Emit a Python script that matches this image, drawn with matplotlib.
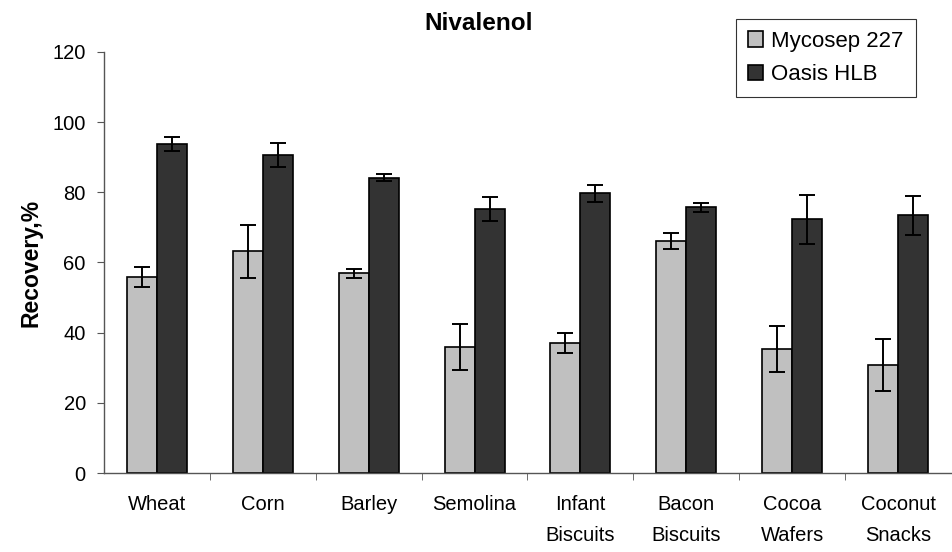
import matplotlib
matplotlib.use("Agg")
import matplotlib.pyplot as plt
import numpy as np

plt.rcParams['font.family'] = ['Liberation Sans', 'DejaVu Sans']

categories = ["Wheat", "Corn", "Barley", "Semolina", "Infant\nBiscuits",
              "Bacon\nBiscuits", "Cocoa\nWafers", "Coconut\nSnacks"]
mycosep = [55.8, 63.2, 56.9, 35.9, 37.1, 66.0, 35.3, 30.7]
mycosep_err = [2.8, 7.6, 1.2, 6.5, 2.9, 2.3, 6.6, 7.4]
oasis = [93.8, 90.5, 84.2, 75.2, 79.7, 75.7, 72.3, 73.4]
oasis_err = [1.9, 3.4, 1.0, 3.4, 2.4, 1.2, 6.9, 5.5]

fig = plt.figure(figsize=(9.53, 5.52), dpi=100)
ax = fig.add_axes([0.109, 0.143, 0.889, 0.763])

x = np.arange(len(categories))
w = 0.283
err_kw = dict(ecolor="black", elinewidth=1.4, capsize=5.5, capthick=1.4)
b1 = ax.bar(x - w / 2, mycosep, w, yerr=mycosep_err, color="#c0c0c0",
            edgecolor="black", linewidth=1.2, label="Mycosep 227",
            error_kw=err_kw)
b2 = ax.bar(x + w / 2, oasis, w, yerr=oasis_err, color="#333333",
            edgecolor="black", linewidth=1.2, label="Oasis HLB",
            error_kw=err_kw)

ax.set_xlim(-0.5, len(categories) - 0.5)
ax.set_ylim(0, 120)
ax.set_yticks(np.arange(0, 121, 20))
ax.set_xticks(x)
ax.set_xticklabels(categories, fontsize=14.5, linespacing=1.75, va="top")
ax.set_xticks(np.arange(0.5, len(categories) - 0.5, 1), minor=True)
ax.tick_params(axis="x", which="major", length=0, pad=16)
ax.tick_params(axis="x", which="minor", length=5, color="#555555",
               direction="out")
ax.tick_params(axis="y", labelsize=14.5, length=5, color="#555555", pad=8)

for s in ["top", "right"]:
    ax.spines[s].set_visible(False)
for s in ["left", "bottom"]:
    ax.spines[s].set_color("#555555")
    ax.spines[s].set_linewidth(1.0)

ax.set_ylabel("Recovery,%", fontsize=16.5, fontweight="bold", labelpad=7)
fig.text(0.502, 0.958, "Nivalenol", ha="center", va="center", fontsize=17.5,
         fontweight="bold")

leg = fig.legend(handles=[b1, b2], loc="upper left",
                 bbox_to_anchor=(0.772, 0.966), fontsize=16, frameon=True,
                 fancybox=False, edgecolor="black", handlelength=0.7,
                 handleheight=0.7, handletextpad=0.35, borderpad=0.55,
                 labelspacing=0.55, borderaxespad=0)
leg.get_frame().set_linewidth(0.8)

fig.savefig("out.png", dpi=100)
